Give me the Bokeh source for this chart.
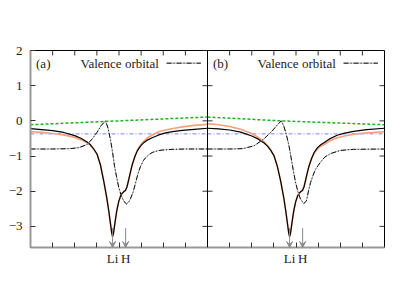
import numpy as np
from bokeh.plotting import figure
from bokeh.models import (FixedTicker, LinearAxis, Range1d, Arrow, VeeHead,
                          ColumnDataSource, Span)
from bokeh.core.properties import value
from bokeh.embed import file_html
from bokeh.resources import INLINE

PANEL_WIDTH = 8.0
FONT = "Liberation Serif"

# ---------------- data : panel (a) ----------------
total_x_a = [0.0, 0.5, 1.0, 1.5, 2.0, 2.3, 2.56, 2.71, 2.86, 3.01, 3.16, 3.31, 3.45, 3.54,
             3.62, 3.67, 3.71, 3.75, 3.8, 3.84, 3.9, 3.99, 4.07, 4.14, 4.22, 4.29, 4.36,
             4.44, 4.52, 4.6, 4.71, 4.82, 4.97, 5.12, 5.3, 5.5, 5.8, 6.1, 6.5, 6.86, 7.4, 8.0]
total_y_a = [-0.22, -0.25, -0.28, -0.33, -0.42, -0.5, -0.6, -0.68, -0.8, -0.95, -1.25, -1.71,
             -2.2, -2.57, -2.95, -3.18, -3.29, -3.2, -2.98, -2.8, -2.55, -2.29, -2.14, -2.06,
             -2.01, -1.98, -1.88, -1.67, -1.45, -1.24, -1.03, -0.86, -0.72, -0.62, -0.54,
             -0.48, -0.4, -0.34, -0.3, -0.27, -0.24, -0.21]
orange_y_a = [-0.31, -0.33, -0.36, -0.4, -0.47, -0.54, -0.63, -0.69, -0.81, -0.95, -1.25, -1.71,
              -2.2, -2.57, -2.95, -3.18, -3.29, -3.2, -2.98, -2.8, -2.55, -2.29, -2.14, -2.06,
              -2.01, -1.98, -1.88, -1.67, -1.45, -1.24, -1.03, -0.85, -0.69, -0.58, -0.48,
              -0.4, -0.31, -0.26, -0.21, -0.17, -0.13, -0.1]
valence_x_a = [0.0, 1.0, 1.8, 2.2, 2.56, 2.78, 3.0, 3.2, 3.39, 3.5, 3.62, 3.71, 3.8, 3.9, 3.99,
               4.1, 4.22, 4.34, 4.45, 4.52, 4.64, 4.75, 4.86, 4.97, 5.1, 5.2, 5.35, 5.5, 5.75,
               5.95, 6.4, 7.0, 8.0]
valence_y_a = [-0.8, -0.8, -0.79, -0.76, -0.67, -0.52, -0.33, -0.13, 0.0, -0.2, -0.55, -0.9,
               -1.3, -1.62, -1.9, -2.12, -2.29, -2.36, -2.3, -2.21, -2.02, -1.76, -1.5, -1.3,
               -1.13, -1.05, -0.96, -0.9, -0.85, -0.83, -0.81, -0.8, -0.8]
green_x_a = [0.0, 4.0, 8.0]
green_y_a = [-0.11, 0.0, 0.11]

# ---------------- data : panel (b) ----------------
total_x_b = [0.0, 0.5, 1.0, 1.5, 2.0, 2.3, 2.56, 2.71, 2.86, 3.01, 3.16, 3.31, 3.45, 3.54,
             3.62, 3.67, 3.71, 3.75, 3.8, 3.84, 3.9, 3.99, 4.07, 4.14, 4.22, 4.29, 4.36,
             4.44, 4.52, 4.6, 4.71, 4.82, 4.97, 5.12, 5.26, 5.5, 5.86, 6.2, 6.61, 7.2, 8.0]
total_y_b = [-0.21, -0.23, -0.26, -0.32, -0.43, -0.52, -0.63, -0.72, -0.84, -1.0, -1.3, -1.72,
             -2.2, -2.57, -2.95, -3.18, -3.29, -3.2, -2.98, -2.8, -2.55, -2.29, -2.14, -2.06,
             -2.01, -1.98, -1.88, -1.67, -1.45, -1.26, -1.06, -0.9, -0.76, -0.68, -0.62,
             -0.52, -0.41, -0.35, -0.3, -0.25, -0.21]
orange_y_b = [-0.08, -0.11, -0.16, -0.24, -0.36, -0.47, -0.6, -0.7, -0.83, -1.0, -1.3, -1.72,
              -2.2, -2.57, -2.95, -3.18, -3.29, -3.2, -2.98, -2.8, -2.55, -2.29, -2.14, -2.06,
              -2.01, -1.98, -1.88, -1.67, -1.45, -1.26, -1.06, -0.92, -0.8, -0.72, -0.67,
              -0.58, -0.48, -0.43, -0.38, -0.34, -0.31]
valence_x_b = [0.0, 1.0, 1.6, 2.1, 2.54, 2.92, 3.15, 3.34, 3.45, 3.56, 3.68, 3.78, 3.87, 3.97,
               4.08, 4.2, 4.35, 4.47, 4.58, 4.66, 4.77, 4.88, 5.0, 5.11, 5.3, 5.56, 6.01, 6.6, 8.0]
valence_y_b = [-0.8, -0.8, -0.79, -0.71, -0.52, -0.29, -0.12, 0.0, -0.15, -0.38, -0.7, -1.05,
               -1.38, -1.72, -2.0, -2.22, -2.35, -2.28, -1.95, -1.75, -1.55, -1.38, -1.27,
               -1.17, -1.03, -0.93, -0.84, -0.81, -0.8]
green_x_b = [0.0, 3.3, 8.0]
green_y_b = [0.11, 0.0, -0.11]

# shared
blue_x = [0.0, 8.0]
blue_y = [-0.37, -0.37]
atom_x = [3.71, 4.3]
atom_labels = ["Li", "H"]
arrow_top = [-3.05, -3.05]
panel_labels = ["(a)", "(b)"]
legend_label = "Valence orbital"
y_ticks = [-3, -2, -1, 0, 1, 2]
x_minor = [1, 2, 3, 4, 5, 6, 7]

Y_MIN, Y_MAX = -3.6, 2.0
X_MAX = 2 * PANEL_WIDTH
FRAME_W, FRAME_H = 354, 197
TICK_PX = 5
tick_dx = TICK_PX * X_MAX / FRAME_W
tick_dy = TICK_PX * (Y_MAX - Y_MIN) / FRAME_H

p = figure(x_range=Range1d(0, X_MAX), y_range=Range1d(Y_MIN, Y_MAX),
           frame_width=FRAME_W, frame_height=FRAME_H,
           min_border_left=30, min_border_top=50, min_border_right=12, min_border_bottom=30,
           x_axis_type=None, y_axis_type=None,
           output_backend="svg", toolbar_location=None)
p.outline_line_color = "black"
p.outline_line_width = 1
p.background_fill_color = "white"
p.border_fill_color = "white"

offsets = [0.0, PANEL_WIDTH]
panels = [
    (total_x_a, total_y_a, orange_y_a, valence_x_a, valence_y_a, green_x_a, green_y_a),
    (total_x_b, total_y_b, orange_y_b, valence_x_b, valence_y_b, green_x_b, green_y_b),
]

for off, (tx, ty, oy, vx, vy, gx, gy) in zip(offsets, panels):
    tx = np.array(tx) + off
    vx = np.array(vx) + off
    gx = np.array(gx) + off
    bx = np.array(blue_x) + off
    p.line(gx, gy, line_color="#22b022", line_width=1.5, line_dash="3 2")
    p.line(bx, blue_y, line_color="#8080ff", line_width=1.0, line_dash="4 2 1 2")
    p.line(tx, oy, line_color="#f4a07c", line_width=1.7)
    p.line(tx, ty, line_color="black", line_width=1.2)
    p.line(vx, vy, line_color="#b0b0b0", line_width=1.0)
    p.line(vx, vy, line_color="#111111", line_width=1.0, line_dash="5 2 1 2")

# arrows pointing at the atoms
ax_all = [x + off for off in offsets for x in atom_x]
src = ColumnDataSource(dict(x0=ax_all, y0=arrow_top * 2, x1=ax_all,
                            y1=[Y_MIN] * len(ax_all)))
p.add_layout(Arrow(end=VeeHead(size=6, line_color="#888888", line_width=1,
                               fill_color="#888888"),
                   x_start="x0", y_start="y0", x_end="x1", y_end="y1",
                   line_color="#888888", line_width=1, source=src))

# panel separator with its ticks
p.add_layout(Span(location=PANEL_WIDTH, dimension="height", line_color="black", line_width=1))
p.segment(x0=[PANEL_WIDTH - tick_dx] * len(y_ticks), y0=y_ticks,
          x1=[PANEL_WIDTH + tick_dx] * len(y_ticks), y1=y_ticks,
          line_color="#333333", line_width=1)

# mirrored ticks: top of both panels and right edge
minor_all = [m + off for off in offsets for m in x_minor]
p.segment(x0=minor_all, y0=[Y_MAX] * len(minor_all), x1=minor_all,
          y1=[Y_MAX - tick_dy] * len(minor_all), line_color="#333333", line_width=1)
p.segment(x0=[X_MAX] * len(y_ticks), y0=y_ticks, x1=[X_MAX - tick_dx] * len(y_ticks),
          y1=y_ticks, line_color="#333333", line_width=1)

# panel labels and legend
text_y = 1.64
p.text(x=[0.25 + off for off in offsets], y=[text_y] * 2, text=panel_labels,
       text_font=value(FONT), text_font_size=value("13px"), text_color="#222222",
       text_align="left", text_baseline="middle")
p.text(x=[5.8 + off for off in offsets], y=[text_y] * 2, text=[legend_label] * 2,
       text_font=value(FONT), text_font_size=value("13px"), text_color="#222222",
       text_align="right", text_baseline="middle")
for off in offsets:
    p.line([6.15 + off, 7.7 + off], [text_y, text_y], line_color="#b0b0b0", line_width=1.0)
    p.line([6.15 + off, 7.7 + off], [text_y, text_y], line_color="#111111", line_width=1.0,
           line_dash="5 2 1 2")

# axes
atom_ticks = [x + off for off in offsets for x in atom_x]
overrides = {t: lab for t, lab in zip(atom_ticks, atom_labels * 2)}

xb = LinearAxis()
xb.ticker = FixedTicker(ticks=atom_ticks, minor_ticks=minor_all)
xb.major_tick_in = 0
xb.major_tick_out = 0
xb.minor_tick_in = TICK_PX
xb.minor_tick_out = 0
xb.minor_tick_line_color = "#333333"
xb.axis_line_color = "#999999"
xb.axis_line_width = 2
xb.major_label_overrides = overrides
xb.major_label_text_font = FONT
xb.major_label_text_font_size = "13px"
xb.major_label_text_color = "#222222"
xb.major_label_standoff = 3

yl = LinearAxis()
yl.ticker = FixedTicker(ticks=y_ticks)
yl.major_tick_in = TICK_PX
yl.major_tick_out = 0
yl.minor_tick_in = 0
yl.minor_tick_out = 0
yl.major_tick_line_color = "#333333"
yl.axis_line_color = "#999999"
yl.axis_line_width = 2
yl.major_label_text_font = FONT
yl.major_label_text_font_size = "13px"
yl.major_label_text_color = "#222222"
yl.major_label_standoff = 8

p.add_layout(xb, "below")
p.add_layout(yl, "left")

open("out.html", "w").write(file_html(p, INLINE))
